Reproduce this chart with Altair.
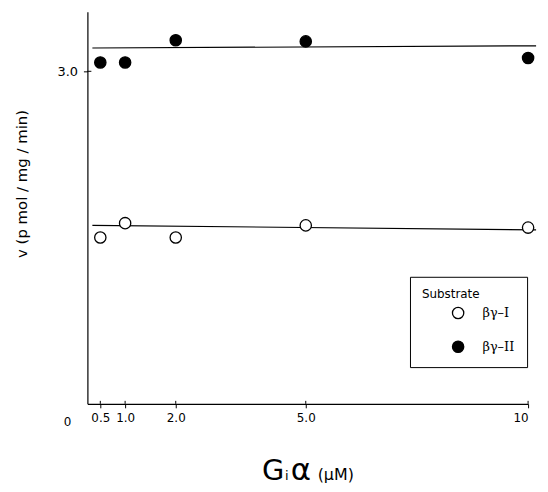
import altair as alt
import pandas as pd

# ---- data ----
conc = [0.5, 1.0, 2.0, 5.0, 10.0]
v_I = [1.50, 1.63, 1.50, 1.61, 1.59]     # open circles
v_II = [3.08, 3.08, 3.28, 3.27, 3.12]    # filled circles
substrates = ["βγ–I", "βγ–II"]
fit_x = [0.34, 10.18]
fit_I = [1.61, 1.57]
fit_II = [3.21, 3.23]
x_ticks = [0.5, 1.0, 2.0, 5.0, 10.0]
y_ticks = [3.0]
title_parts = ["G", "i", "α", "(μM)"]

W, H = 444, 395
SANS = "DejaVu Sans"
SERIF = "DejaVu Serif"

pts = pd.DataFrame({
    "conc": conc * 2,
    "v": v_I + v_II,
    "substrate": [substrates[0]] * len(conc) + [substrates[1]] * len(conc),
})
fits = pd.DataFrame({
    "conc": fit_x * 2,
    "v": fit_I + fit_II,
    "substrate": [substrates[0]] * 2 + [substrates[1]] * 2,
})

xscale = alt.Scale(domain=[0.24, 0.5, 1, 2, 5, 10], range=[0, 13, 38, 89, 220, 444],
                   nice=False, zero=False)
yscale = alt.Scale(domain=[0, 3.537], nice=False, zero=False)

xaxis = alt.Axis(values=x_ticks, labelExpr="datum.value == 10 ? '10' : format(datum.value, '.1f')",
                 grid=False, domainColor="black", tickColor="black", tickSize=4,
                 labelFont=SANS, labelFontSize=12, labelColor="black", labelPadding=5,
                 title=None, domainWidth=1.2)
yaxis = alt.Axis(values=y_ticks, format=".1f", grid=False, domainColor="black",
                 tickColor="black", tickSize=4, labelFont=SANS, labelFontSize=13,
                 labelColor="black", labelPadding=6, domainWidth=1.2,
                 title="v (p mol / mg / min)", titleFont=SANS, titleFontSize=15,
                 titleFontWeight="normal", titleColor="black", titleX=-66, titleY=173,
                 titleAngle=270, titleAlign="center", titleBaseline="middle")

lines = alt.Chart(fits).mark_line(color="black", strokeWidth=1.2).encode(
    x=alt.X("conc:Q", scale=xscale, axis=xaxis),
    y=alt.Y("v:Q", scale=yscale, axis=yaxis),
    detail="substrate:N",
)

points = alt.Chart(pts).mark_point(filled=True, size=130, stroke="black",
                                   strokeWidth=1.3, opacity=1, shape="circle").encode(
    x=alt.X("conc:Q", scale=xscale),
    y=alt.Y("v:Q", scale=yscale),
    fill=alt.Fill("substrate:N", scale=alt.Scale(domain=substrates, range=["white", "black"]),
                  legend=alt.Legend(title="Substrate", orient="none", legendX=325, legendY=267,
                                    strokeColor="black", padding=12, titleFont=SANS,
                                    titleFontSize=12, titleFontWeight="normal",
                                    titleColor="black", titlePadding=6,
                                    symbolType="circle", symbolSize=130,
                                    symbolStrokeColor="black", symbolStrokeWidth=1.3,
                                    symbolOffset=30, labelOffset=18, rowPadding=17,
                                    labelFont=SERIF, labelFontSize=13, labelColor="black")),
)

ytick_in = alt.Chart(pd.DataFrame({"v": y_ticks})).mark_rule(color="black", strokeWidth=1).encode(
    y=alt.Y("v:Q", scale=yscale), x=alt.value(0), x2=alt.value(4))
xtick_in = alt.Chart(pd.DataFrame({"conc": x_ticks})).mark_rule(color="black", strokeWidth=1).encode(
    x=alt.X("conc:Q", scale=xscale), y=alt.value(H - 3), y2=alt.value(H))

zero_lbl = alt.Chart(pd.DataFrame({"t": ["0"]})).mark_text(
    font=SANS, fontSize=12, color="black", baseline="middle", align="center").encode(
    text="t:N", x=alt.value(-20), y=alt.value(H + 18))

specs = [(title_parts[0], 176, 29), (title_parts[1], 199, 13), (title_parts[2], 205, 31),
         (title_parts[3], 232, 16)]
title_layers = []
for txt, xp, fs in specs:
    title_layers.append(
        alt.Chart(pd.DataFrame({"t": [txt]})).mark_text(
            font=SANS, fontSize=fs, color="black", align="left", baseline="alphabetic").encode(
            text="t:N", x=alt.value(xp), y=alt.value(H + 77)))

chart = alt.layer(lines, points, ytick_in, xtick_in, zero_lbl, *title_layers).properties(
    width=W, height=H,
    autosize=alt.AutoSizeParams(type="none"),
    padding={"left": 80, "top": 2, "right": 12, "bottom": 85},
    background="white",
).configure_view(stroke=None)

chart.save("out.html", embed_options={"renderer": "svg", "actions": False})
